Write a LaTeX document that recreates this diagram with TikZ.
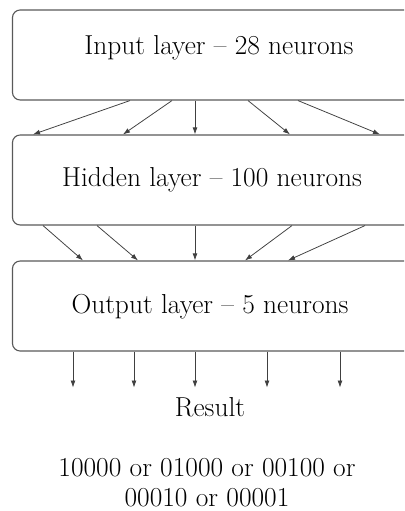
\documentclass[tikz,border=0pt]{standalone}
\usepackage{tikz}
\usepackage{xcolor}
\usetikzlibrary{arrows.meta}

\begin{document}
\begin{tikzpicture}[
    x=0.025cm, y=-0.025cm,
    font=\fontsize{19.5}{21.3}\selectfont,
    layer/.style={draw=black!65, line width=0.8pt, rounded corners=5.5pt,
                  minimum width=10.1cm, minimum height=2.25cm},
    arr/.style={draw=black!75, line width=0.55pt, -{Latex[length=5pt, width=3.5pt]}},
]

\clip (0,0) rectangle (404,511);

% Layers
\node[layer] (input) at (214.5,55) {};
\node[layer] (hidden) at (214.5,180) {};
\node[layer] (output) at (214.5,306) {};

\node (inputtext) at (219,47.5) {Input layer -- 28 neurons};
\node (hiddentext) at (212,180) {Hidden layer -- 100 neurons};
\node (outputtext) at (210,307) {Output layer -- 5 neurons};

% Connections between layers
\foreach \a/\b in {130/33, 172/123, 195/195, 248/290, 298/380}
    \draw[arr] (\a,0 |- input.south) -- (\b,0 |- hidden.north);

\foreach \a/\b in {43/83, 97/138, 195/195, 292/245, 365/288}
    \draw[arr] (\a,0 |- hidden.south) -- (\b,0 |- output.north);

% Outputs
\foreach \a in {73, 134, 195, 267, 340}
    \draw[arr] (\a,0 |- output.south) -- ++(0,36);

\node (result) at (210,407.5) {Result};
\node[align=center, anchor=base] (codes) at (207,506) {10000 or 01000 or 00100 or\\00010 or 00001};

\end{tikzpicture}
\end{document}
